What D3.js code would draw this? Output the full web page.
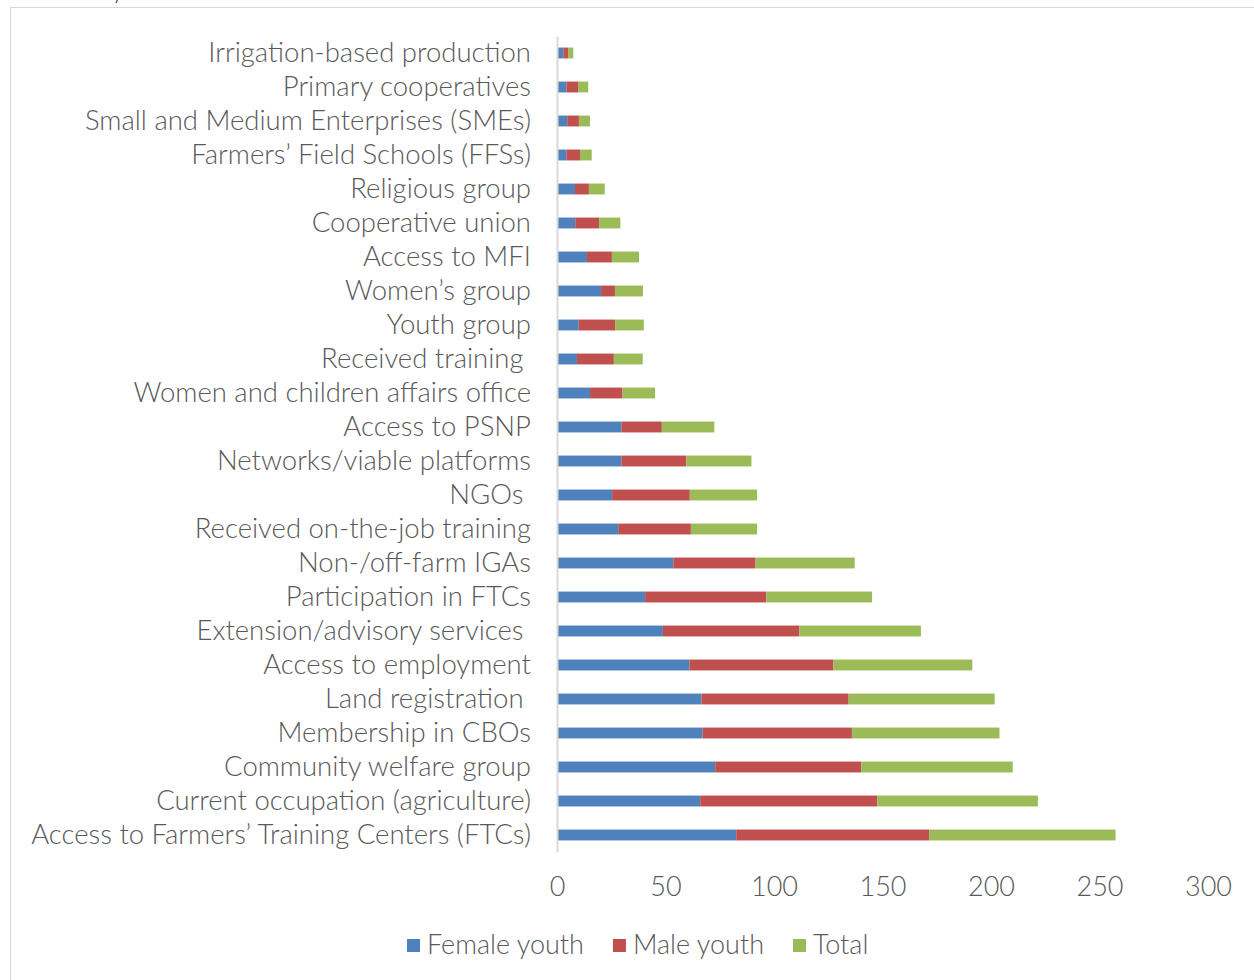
<!DOCTYPE html>
<html>
<head>
<meta charset="utf-8">
<script src="https://cdn.jsdelivr.net/npm/d3@7"></script>
<style>
  html, body { margin: 0; padding: 0; background: #fff; }
  svg { display: block; }
  text { font-family: "Lato", "Open Sans", sans-serif; font-weight: 300; fill: #595959; }
</style>
</head>
<body>
<svg id="chart" width="1254" height="980"></svg>
<script>
// Share of youth (%) by access to services and participation
const categories = [
  "Irrigation-based production",
  "Primary cooperatives",
  "Small and Medium Enterprises (SMEs)",
  "Farmers\u2019 Field Schools (FFSs)",
  "Religious group",
  "Cooperative union",
  "Access to MFI",
  "Women\u2019s group",
  "Youth group",
  "Received training ",
  "Women and children affairs office",
  "Access to PSNP",
  "Networks/viable platforms",
  "NGOs ",
  "Received on-the-job training",
  "Non-/off-farm IGAs",
  "Participation in FTCs",
  "Extension/advisory services ",
  "Access to employment",
  "Land registration ",
  "Membership in CBOs",
  "Community welfare group",
  "Current occupation (agriculture)",
  "Access to Farmers\u2019 Training Centers (FTCs)"
];
const femaleYouth = [2.9, 4.3, 4.7, 4.3, 8.3, 8.4, 13.8, 20.3, 10.0, 9.2, 15.2, 29.7, 29.7, 25.4, 28.2, 53.6, 40.6, 48.8, 61.0, 66.6, 67.1, 72.9, 66.0, 82.6];
const maleYouth   = [2.2, 5.4, 5.4, 6.3, 6.4, 11.0, 11.5, 6.4, 16.8, 17.0, 15.0, 18.6, 29.9, 35.8, 33.5, 37.9, 55.9, 62.9, 66.4, 67.8, 68.8, 67.3, 81.6, 88.9];
const totalYouth  = [2.4, 4.7, 5.1, 5.4, 7.3, 9.8, 12.5, 12.9, 13.2, 13.3, 15.0, 24.2, 30.0, 31.0, 30.5, 45.7, 48.7, 56.0, 64.0, 67.3, 68.0, 69.8, 74.0, 85.9];
const seriesNames = ["Female youth", "Male youth", "Total"];
const xTicks = [0, 50, 100, 150, 200, 250, 300];

const colors = ["#4f81bd", "#c0504d", "#9bbb59"];
const svg = d3.select("#chart");

// chart area frame
svg.append("rect")
  .attr("x", 10.5).attr("y", 7.5)
  .attr("width", 1260).attr("height", 990)
  .attr("fill", "none").attr("stroke", "#d9d9d9").attr("stroke-width", 1);

// descender of the caption line above the frame
svg.append("text").attr("x", 112).attr("y", -1)
  .style("font-size", "24px").style("fill", "#222").text("y");

const rows = categories.map((c, i) => ({
  cat: c, vals: [femaleYouth[i], maleYouth[i], totalYouth[i]]
}));
const stack = d3.stack().keys([0, 1, 2]).value((d, k) => d.vals[k]);
const layers = stack(rows);

const x = d3.scaleLinear().domain([0, 300]).range([557, 1208]);
const y = d3.scaleBand().domain(categories).range([36, 852]).paddingInner(0.68).paddingOuter(0.34);

svg.append("g").selectAll("g").data(layers).join("g")
  .attr("fill", (d, i) => colors[i])
  .selectAll("rect").data(d => d).join("rect")
  .attr("x", d => x(d[0]))
  .attr("width", d => x(d[1]) - x(d[0]))
  .attr("y", d => y(d.data.cat))
  .attr("height", y.bandwidth());

// category axis
const yAxis = svg.append("g").attr("transform", "translate(557,0)")
  .call(d3.axisLeft(y).tickSize(0).tickPadding(26));
yAxis.select(".domain").attr("stroke", "#d9d9d9").attr("stroke-width", 2);
yAxis.selectAll("text")
  .style("font-family", "Lato, sans-serif").style("font-weight", 300)
  .style("font-size", "27.5px").style("fill", "#595959")
  .style("white-space", "pre");

// value axis
const xAxis = svg.append("g").attr("transform", "translate(0,871)")
  .call(d3.axisBottom(x).tickValues(xTicks).tickSize(0).tickPadding(6));
xAxis.select(".domain").remove();
xAxis.selectAll("text")
  .style("font-family", "Lato, sans-serif").style("font-weight", 300)
  .style("font-size", "27px").style("fill", "#595959");

// legend
const legend = svg.append("g").attr("transform", "translate(407,945)");
let lx = 0;
seriesNames.forEach((name, i) => {
  legend.append("rect").attr("x", lx).attr("y", -6).attr("width", 13).attr("height", 13).attr("fill", colors[i]);
  const t = legend.append("text").attr("x", lx + 20).attr("y", 0).attr("dy", "0.35em")
    .style("font-size", "27px").text(name);
  lx += 20 + t.node().getComputedTextLength() + 29;
});
</script>
</body>
</html>
